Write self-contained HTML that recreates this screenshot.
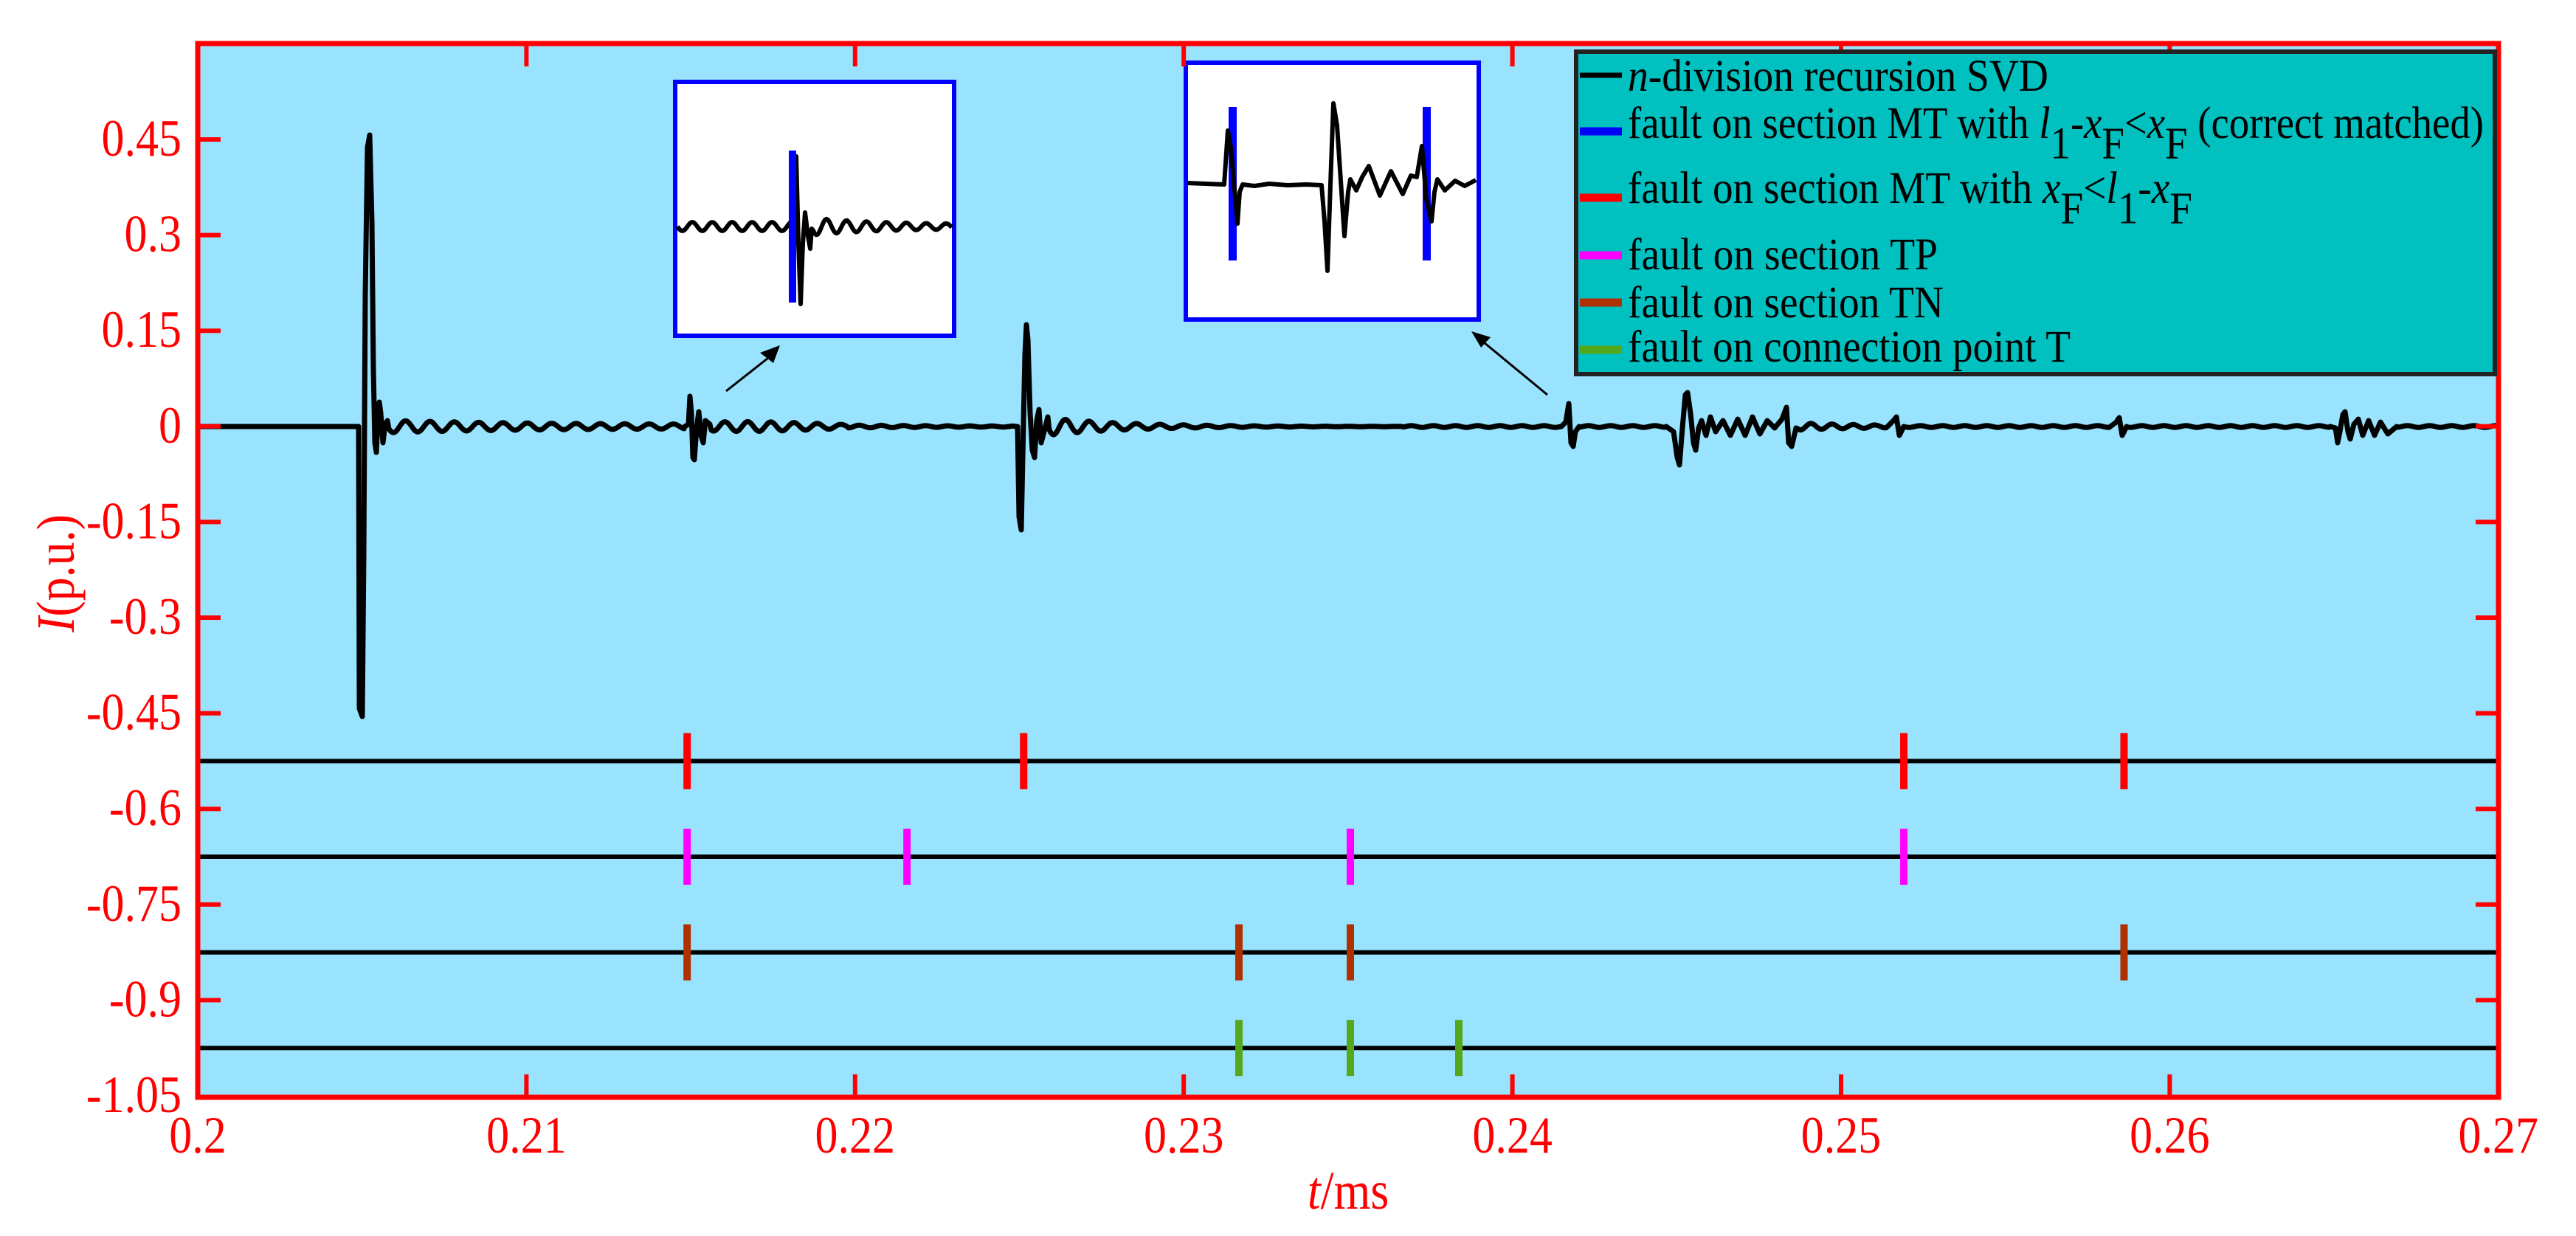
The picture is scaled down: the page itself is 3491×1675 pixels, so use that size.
<!DOCTYPE html>
<html><head><meta charset="utf-8"><style>
html,body{margin:0;padding:0;background:#fff;}
svg{display:block;}
text{font-family:"Liberation Serif",serif;}
</style></head><body>
<svg id="s" width="3491" height="1675" viewBox="0 0 3491 1675" xmlns="http://www.w3.org/2000/svg">
<rect x="268" y="59" width="3118" height="1428" fill="#99E3FE"/>
<g id="bars"></g>
<path id="wave" fill="none" stroke="#000" stroke-width="7" stroke-linejoin="round"/>
<rect x="915" y="111" width="378" height="344" fill="#fff" stroke="#0000FF" stroke-width="6"/>
<path id="in1" fill="none" stroke="#000" stroke-width="6" stroke-linejoin="round"/>
<rect x="1069" y="204" width="10" height="206" fill="#0000FF"/>
<rect x="1607" y="85" width="397" height="348" fill="#fff" stroke="#0000FF" stroke-width="6"/>
<rect x="1665" y="145" width="11" height="208" fill="#0000FF"/>
<rect x="1928" y="145" width="11" height="208" fill="#0000FF"/>
<path fill="none" stroke="#000" stroke-width="6" stroke-linejoin="round" d="M1609 248 L1659 250 L1664 177 L1668 200 L1677 303 L1680 260 L1684 250 L1700 252 L1720 249 L1745 251 L1770 250 L1791 251 L1795 300 L1799 367 L1803 250 L1807 140 L1812 170 L1822 320 L1827 260 L1830 243 L1838 258 L1846 240 L1855 225 L1870 265 L1885 232 L1901 263 L1912 238 L1920 240 L1927 198 L1933 270 L1940 300 L1944 260 L1948 243 L1958 258 L1972 245 L1985 252 L2000 244"/>
<line x1="984" y1="530" x2="1050" y2="478" stroke="#000" stroke-width="3"/>
<polygon points="1057,468 1030,478 1048,492" fill="#000"/>
<line x1="2097" y1="535" x2="2000" y2="455" stroke="#000" stroke-width="3"/>
<polygon points="1994,449 2020,457 2007,471" fill="#000"/>
<rect x="268" y="59" width="3118" height="1428" fill="none" stroke="#FF0000" stroke-width="7"/>
<g id="ticks" stroke="#FF0000" stroke-width="6"></g>
<g id="labels" fill="#FF0000" font-size="62"></g>
<rect x="2136" y="70" width="1245" height="437" fill="#00C0C0" stroke="#222" stroke-width="6"/>
<g stroke-width="11">
<line x1="2141" y1="102" x2="2198" y2="102" stroke="#000" stroke-width="7"/>
<line x1="2141" y1="178" x2="2198" y2="178" stroke="#0000FF"/>
<line x1="2141" y1="268" x2="2198" y2="268" stroke="#FF0000"/>
<line x1="2141" y1="346" x2="2198" y2="346" stroke="#FF00FF"/>
<line x1="2141" y1="410" x2="2198" y2="410" stroke="#B03000"/>
<line x1="2141" y1="474" x2="2198" y2="474" stroke="#55A81A"/>
</g>
<g fill="#000" font-size="53">
<g transform="translate(2206,123) scale(1,1.15)"><text x="0" y="0" textLength="570" lengthAdjust="spacingAndGlyphs"><tspan font-style="italic">n</tspan>-division recursion SVD</text></g>
<g transform="translate(2206,187) scale(1,1.15)"><text x="0" y="0" textLength="1160" lengthAdjust="spacingAndGlyphs">fault on section MT with <tspan font-style="italic">l</tspan><tspan dy="24">1</tspan><tspan dy="-24">-</tspan><tspan font-style="italic">x</tspan><tspan dy="24">F</tspan><tspan dy="-24">&lt;</tspan><tspan font-style="italic">x</tspan><tspan dy="24">F</tspan><tspan dy="-24"> (correct matched)</tspan></text></g>
<g transform="translate(2206,275) scale(1,1.15)"><text x="0" y="0" textLength="765" lengthAdjust="spacingAndGlyphs">fault on section MT with <tspan font-style="italic">x</tspan><tspan dy="24">F</tspan><tspan dy="-24">&lt;</tspan><tspan font-style="italic">l</tspan><tspan dy="24">1</tspan><tspan dy="-24">-</tspan><tspan font-style="italic">x</tspan><tspan dy="24">F</tspan></text></g>
<g transform="translate(2206,365) scale(1,1.15)"><text x="0" y="0" textLength="420" lengthAdjust="spacingAndGlyphs">fault on section TP</text></g>
<g transform="translate(2206,430) scale(1,1.15)"><text x="0" y="0" textLength="428" lengthAdjust="spacingAndGlyphs">fault on section TN</text></g>
<g transform="translate(2206,490) scale(1,1.15)"><text x="0" y="0" textLength="600" lengthAdjust="spacingAndGlyphs">fault on connection point T</text></g>
</g>
<g transform="translate(1772,1638) scale(1,1.15)"><text x="0" y="0" font-size="64" fill="#FF0000"><tspan font-style="italic">t</tspan>/ms</text></g>
<g transform="translate(100,777) rotate(-90) scale(1,1.15)"><text x="0" y="0" text-anchor="middle" font-size="64" fill="#FF0000"><tspan font-style="italic">I</tspan>(p.u.)</text></g>
</svg>
<script>
var NS="http://www.w3.org/2000/svg";
function X(t){return 268+(t-0.2)*44540;}
function Y(v){return 189+(0.45-v)/0.15*129.6;}
function el(tag,attrs,parent,txt){var e=document.createElementNS(NS,tag);for(var k in attrs)e.setAttribute(k,attrs[k]);if(txt!==undefined)e.textContent=txt;parent.appendChild(e);return e;}
var bars=document.getElementById('bars');
var rows=[[-0.525,'#FF0000',[0.21489,0.22513,0.25191,0.25861]],[-0.675,'#FF00FF',[0.21489,0.22158,0.23507,0.25191]],[-0.825,'#B03000',[0.21489,0.23168,0.23507,0.25861]],[-0.975,'#55A81A',[0.23168,0.23507,0.23837]]];
rows.forEach(function(r){var y=Y(r[0]);el('line',{x1:268,y1:y,x2:3386,y2:y,stroke:'#000','stroke-width':6},bars);
r[2].forEach(function(t){var x=X(t);el('rect',{x:x-5,y:y-38,width:10,height:76,fill:r[1]},bars);});});
var exp=[
[484,525,[[484,578],[486,578],[487,960],[491,971],[493,750],[495,400],[498,200],[501,183],[504,300],[506,500],[508,600],[510,613],[512,570],[514,545],[516,560],[519,600],[522,575],[525,570]]],
[928,962,[[928,578],[933,575],[935,537],[937,560],[939,620],[941,623],[944,580],[947,558],[950,590],[953,600],[956,570],[962,575]]],
[1376,1420,[[1376,578],[1379,578],[1381,700],[1384,718],[1386,620],[1389,480],[1391,440],[1393,460],[1396,560],[1399,610],[1402,620],[1405,570],[1408,555],[1411,600],[1415,585],[1420,565]]],
[2116,2140,[[2116,578],[2122,572],[2126,547],[2129,600],[2132,605],[2135,585],[2140,578]]],
[2258,2434,[[2258,578],[2268,585],[2273,620],[2276,630],[2280,580],[2284,535],[2287,532],[2291,560],[2295,600],[2298,610],[2302,580],[2306,570],[2312,590],[2318,565],[2325,585],[2335,570],[2345,590],[2355,568],[2365,590],[2375,565],[2385,588],[2395,570],[2405,580],[2415,568],[2421,552],[2424,600],[2428,605],[2434,580]]],
[2558,2580,[[2558,578],[2566,570],[2570,565],[2574,590],[2580,578]]],
[2860,2882,[[2860,578],[2868,572],[2872,566],[2876,590],[2882,578]]],
[3158,3248,[[3158,578],[3165,580],[3168,600],[3171,585],[3175,562],[3178,558],[3182,585],[3185,595],[3190,575],[3196,568],[3202,590],[3210,570],[3218,590],[3226,572],[3236,588],[3248,578]]]
];
function rip(x){var y=0;
if(x>525&&x<1150)y+=(2.5+6*Math.exp(-(x-525)/200))*Math.sin(2*Math.PI*(x-525)/33);
if(x>962&&x<1376)y+=5*Math.exp(-(x-962)/200)*Math.sin(2*Math.PI*(x-962)/30);
if(x>1420&&x<1900)y+=12*Math.exp(-(x-1420)/110)*Math.sin(2*Math.PI*(x-1420)/32);
if(x>1900)y+=1.2*Math.sin(2*Math.PI*x/30);
if(x>2434&&x<2560)y+=4*Math.exp(-(x-2434)/80)*Math.sin(2*Math.PI*(x-2434)/28);
return y;}
var pts=[[268,578]];var x=268;
while(x<=3386){var w=null;for(var k=0;k<exp.length;k++){if(x>=exp[k][0]&&x<=exp[k][1]){w=exp[k];break;}}
if(w){w[2].forEach(function(p){pts.push(p);});x=w[1]+2;continue;}
pts.push([x,578+rip(x)]);x+=2;}
document.getElementById('wave').setAttribute('d','M'+pts.map(function(p){return p[0]+' '+p[1].toFixed(1);}).join(' L'));
var p1=[];for(var xx=918;xx<=1290;xx+=2){var y;
if(xx<1072)y=307+6*Math.sin(2*Math.PI*(xx-918)/27);
else if(xx<1100){p1=p1.concat([[1072,300],[1076,240],[1079,212],[1082,330],[1085,412],[1088,330],[1091,288],[1095,320],[1098,337],[1100,310]]);xx=1100;continue;}
else y=307+(3+9*Math.exp(-(xx-1100)/90))*Math.sin(2*Math.PI*(xx-1100)/27);
p1.push([xx,y]);}
document.getElementById('in1').setAttribute('d','M'+p1.map(function(p){return p[0]+' '+p[1].toFixed(1);}).join(' L'));
var tk=document.getElementById('ticks'),lb=document.getElementById('labels');
function lab(x,y,anchor,s){var g=el('g',{transform:'translate('+x+','+y+') scale(1,1.15)'},lb);el('text',{x:0,y:0,'text-anchor':anchor},g,s);}
var yv=['0.45','0.3','0.15','0','-0.15','-0.3','-0.45','-0.6','-0.75','-0.9','-1.05'];
yv.forEach(function(s){var v=parseFloat(s);var y=Y(v);
if(v>-1.04){el('line',{x1:268,y1:y,x2:299,y2:y},tk);el('line',{x1:3355,y1:y,x2:3386,y2:y},tk);}
lab(246,y+22,'end',s);});
var xl=['0.2','0.21','0.22','0.23','0.24','0.25','0.26','0.27'];
for(var j=0;j<=7;j++){var xv=X(0.2+j*0.01);
if(j>0&&j<7){el('line',{x1:xv,y1:1487,x2:xv,y2:1456},tk);el('line',{x1:xv,y1:59,x2:xv,y2:90},tk);}
lab(xv,1562,'middle',xl[j]);}
</script>
</body></html>
